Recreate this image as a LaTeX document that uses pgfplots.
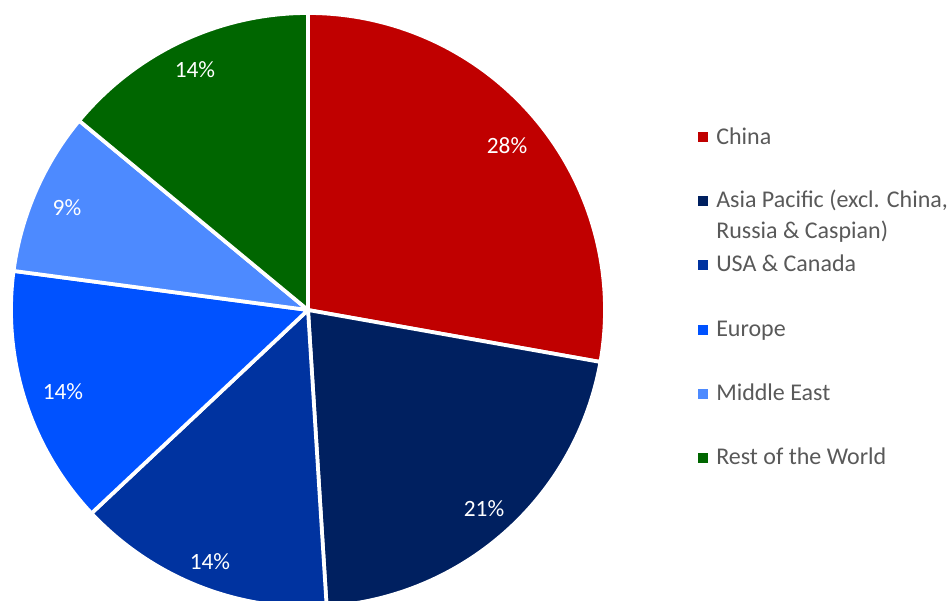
\documentclass[border=0pt]{standalone}
\usepackage{fontspec}
\setmainfont{Carlito}
\usepackage{pgfplots}
\pgfplotsset{compat=1.18}

\definecolor{cChina}{HTML}{C00000}
\definecolor{cAsia}{HTML}{002060}
\definecolor{cUSA}{HTML}{0033A0}
\definecolor{cEurope}{HTML}{0052FF}
\definecolor{cMideast}{HTML}{4D8AFF}
\definecolor{cRest}{HTML}{006600}
\definecolor{legtext}{HTML}{595959}

% shares in percent, clockwise from 12 o'clock
\def\sA{27.8}  % China
\def\sB{21.2}  % Asia Pacific
\def\sC{14.0}  % USA & Canada
\def\sD{14.1}  % Europe
\def\sE{8.9}   % Middle East
\def\sF{14.0}  % Rest of the World

% pie geometry in pixel units
\def\cx{308}
\def\cy{310}
\def\rr{297}

\newcommand{\slice}[3]{%
  \addplot[fill=#3, draw=white, line width=2.8pt, line join=round,
    domain=#2:#1, samples=90, variable=\t]
    ({\cx+\rr*cos(t)}, {\cy-\rr*sin(t)}) -- (axis cs:\cx,\cy) -- cycle;
}

\begin{document}
\begin{tikzpicture}
\pgfmathsetmacro\aA{90}
\pgfmathsetmacro\aB{\aA-3.6*\sA}
\pgfmathsetmacro\aC{\aB-3.6*\sB}
\pgfmathsetmacro\aD{\aC-3.6*\sC}
\pgfmathsetmacro\aE{\aD-3.6*\sD}
\pgfmathsetmacro\aF{\aE-3.6*\sE}
\pgfmathsetmacro\aG{\aF-3.6*\sF}
\begin{axis}[
    name=ax,
    scale only axis,
    width=711pt, height=450pt,
    xmin=0, xmax=948, ymin=0, ymax=600,
    y dir=reverse,
    hide axis,
    clip=true,
]
\slice{\aA}{\aB}{cChina}
\slice{\aB}{\aC}{cAsia}
\slice{\aC}{\aD}{cUSA}
\slice{\aD}{\aE}{cEurope}
\slice{\aE}{\aF}{cMideast}
\slice{\aF}{\aG}{cRest}

% data labels
\begin{scope}[every node/.style={text=white, inner sep=0pt,
    font=\fontsize{17.5}{21}\selectfont}]
\node at (axis cs:507,145.5) {28\%};
\node at (axis cs:484,508.5) {21\%};
\node at (axis cs:210,561.5) {14\%};
\node at (axis cs:63,392) {14\%};
\node at (axis cs:67,208) {9\%};
\node at (axis cs:195,69.5) {14\%};
\end{scope}

% legend keys
\addplot[only marks, mark=square*, mark size=3.2pt, color=cChina] coordinates {(703,137)};
\addplot[only marks, mark=square*, mark size=3.2pt, color=cAsia] coordinates {(703,201)};
\addplot[only marks, mark=square*, mark size=3.2pt, color=cUSA] coordinates {(703,265)};
\addplot[only marks, mark=square*, mark size=3.2pt, color=cEurope] coordinates {(703,330)};
\addplot[only marks, mark=square*, mark size=3.2pt, color=cMideast] coordinates {(703,394)};
\addplot[only marks, mark=square*, mark size=3.2pt, color=cRest] coordinates {(703,458)};

\begin{scope}[every node/.style={anchor=base west, inner sep=0pt,
    text=legtext, font=\fontsize{18}{23}\selectfont}]
\node at (axis cs:716,144) {China};
\node at (axis cs:716,207.7) {Asia Pacific (excl. China,};
\node at (axis cs:716,238.3) {Russia \& Caspian)};
\node at (axis cs:716,271.7) {USA \& Canada};
\node at (axis cs:716,336.7) {Europe};
\node at (axis cs:716,400.7) {Middle East};
\node at (axis cs:716,464.3) {Rest of the World};
\end{scope}
\end{axis}
\pgfresetboundingbox
\path[use as bounding box] (ax.south west) rectangle (ax.north east);
\end{tikzpicture}
\end{document}
